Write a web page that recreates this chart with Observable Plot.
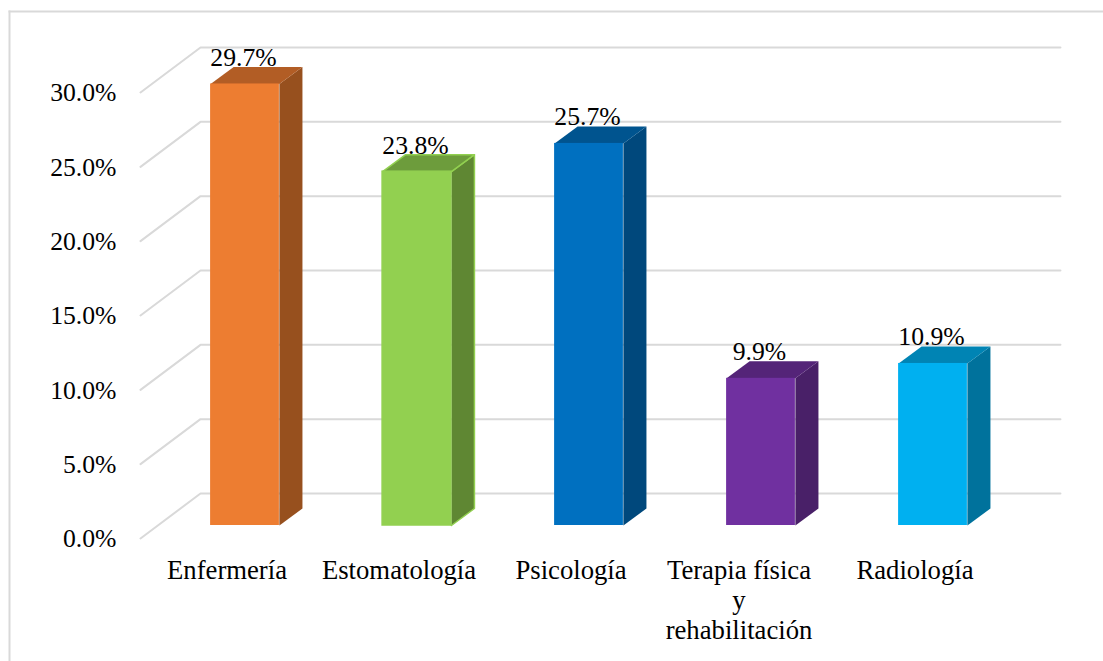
<!DOCTYPE html>
<html lang="es">
<head>
<meta charset="utf-8">
<script src="https://cdn.jsdelivr.net/npm/d3@7"></script>
<script src="https://cdn.jsdelivr.net/npm/@observablehq/plot@0.6"></script>
<style>html,body{margin:0;padding:0;background:#fff}svg{display:block}</style>
</head>
<body>
<div id="chart"></div>
<script>
const categories = ["Enfermería", "Estomatología", "Psicología", "Terapia física\ny\nrehabilitación", "Radiología"];
const values = [29.7, 23.8, 25.7, 9.9, 10.9];
const frontColors = ["#ED7D31", "#92D050", "#0070C0", "#7030A0", "#00B0F0"];
const sideColors = ["#97501E", "#5F8733", "#00487C", "#492068", "#00729C"];
const topColors = ["#B25D25", "#6D9C3C", "#00548F", "#542478", "#0084B4"];
const edgeColors = ["none", "#92D050", "none", "none", "none"];
const yTicks = [0, 5, 10, 15, 20, 25, 30];

// oblique projection, in data units
const halfBar = 0.2;
const barDepthX = 0.134, barDepthY = 1.143;
const floorFrontX = -0.6076, wallLeftX = -0.2587, wallRightX = 4.741;
const floorDrop = 0.874, wallLift = 2.152;

const bars = values.map((v, i) => ({i, v, front: frontColors[i], side: sideColors[i], top: topColors[i], edge: edgeColors[i]}));

const grid = yTicks.flatMap(t => [
  {t, x: floorFrontX, y: t - floorDrop},
  {t, x: wallLeftX, y: t + wallLift},
  {t, x: wallRightX, y: t + wallLift}
]);

const faces = bars.flatMap(b => {
  const l = b.i - halfBar, r = b.i + halfBar;
  const side = [[r, 0], [r + barDepthX, barDepthY], [r + barDepthX, b.v + barDepthY], [r, b.v]];
  const top = [[l, b.v], [l + barDepthX, b.v + barDepthY], [r + barDepthX, b.v + barDepthY], [r, b.v]];
  return [
    ...side.map(([x, y]) => ({id: `s${b.i}`, x, y, fill: b.side, edge: b.edge})),
    ...top.map(([x, y]) => ({id: `t${b.i}`, x, y, fill: b.top, edge: b.edge}))
  ];
});

const font = 25.7;
const catFont = 26.7;
const catAxis = (ticks, dx) => Plot.axisX(ticks, {anchor: "bottom", tickSize: 0, tickPadding: 0, label: null, tickFormat: i => categories[i], fontSize: catFont, lineHeight: 1.12, lineAnchor: "top", dx, dy: -104, fill: "#000"});
const chart = Plot.plot({
  width: 1103,
  height: 661,
  marginTop: 11,
  marginLeft: 9,
  marginRight: 0,
  marginBottom: 0,
  style: {fontFamily: "'Liberation Serif', serif", background: "#fff", color: "#000"},
  x: {type: "linear", domain: [-1, 5], range: [72.5, 1104.5]},
  y: {type: "linear", domain: [0, 30], range: [525, 79]},
  color: {type: "identity"},
  marks: [
    Plot.frame({anchor: "top", stroke: "#d9d9d9", strokeWidth: 2, strokeOpacity: 1}),
    Plot.frame({anchor: "left", stroke: "#d9d9d9", strokeWidth: 2, strokeOpacity: 1}),
    Plot.line(grid, {x: "x", y: "y", z: "t", stroke: "#d9d9d9", strokeWidth: 2, curve: "linear"}),
    Plot.line(faces, {x: "x", y: "y", z: "id", fill: "fill", stroke: "edge", strokeWidth: 1.5, curve: "linear"}),
    Plot.rect(bars, {x1: d => d.i - halfBar, x2: d => d.i + halfBar, y1: 0, y2: "v", fill: "front", stroke: "edge", strokeWidth: 1.5, inset: 0}),
    Plot.text(bars, {x: "i", y: "v", text: d => d.v.toFixed(1) + "%", fontSize: font, lineAnchor: "bottom", dx: -1.5, dy: -18, fill: "#000"}),
    Plot.axisY(yTicks, {anchor: "left", tickSize: 0, tickPadding: 3, label: null, tickFormat: d => d.toFixed(1) + "%", fontSize: font, dx: 110, dy: 13.5, fill: "#000"}),
    catAxis([0, 1, 2, 4], -18),
    catAxis([3], -22)
  ]
});
document.getElementById("chart").appendChild(chart);
</script>
</body>
</html>
